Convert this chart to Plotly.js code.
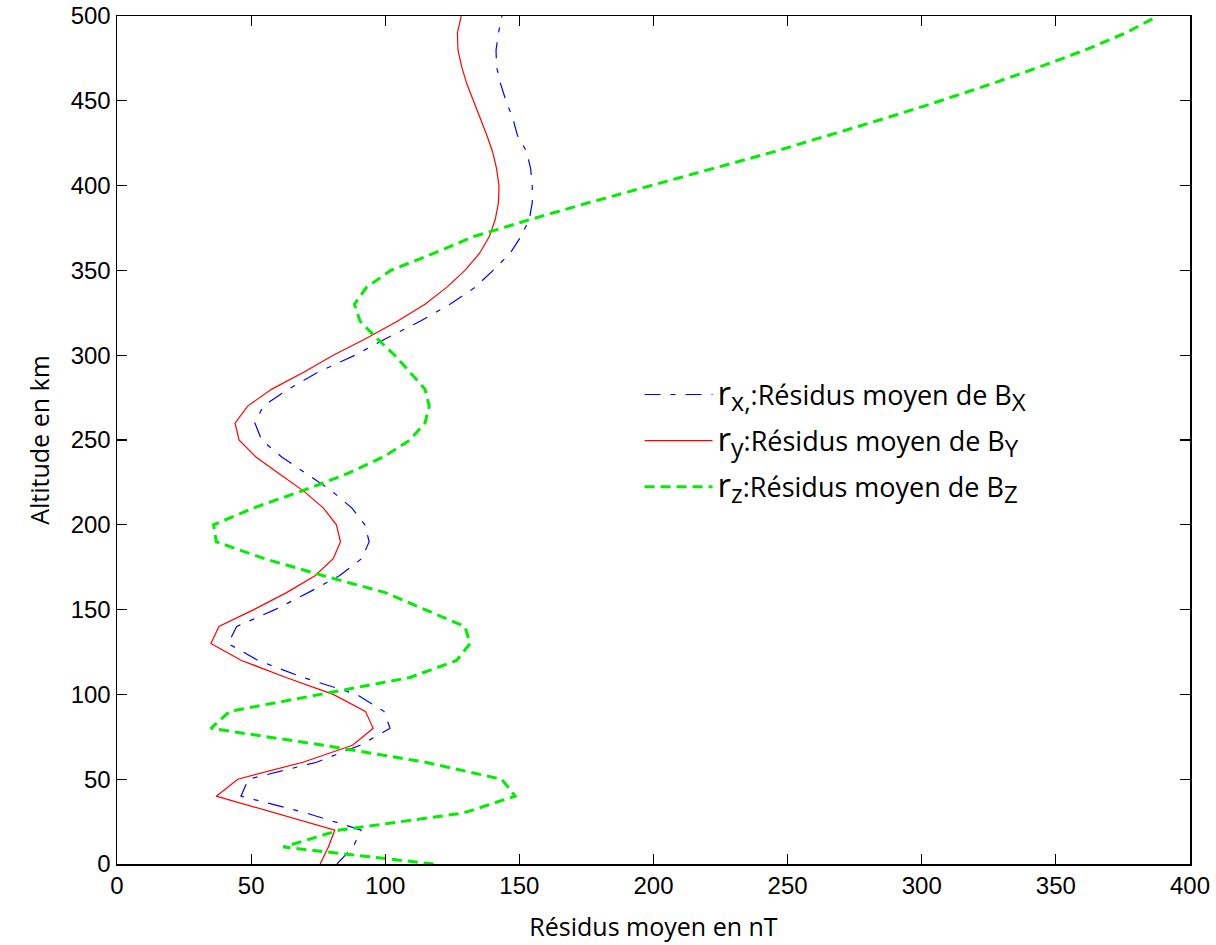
<!DOCTYPE html>
<html>
<head>
<meta charset="utf-8">
<script src="https://cdn.plot.ly/plotly-3.0.1.min.js"></script>
<style>
html,body{margin:0;padding:0;background:#fff;}
#chart{width:1216px;height:945px;}
</style>
</head>
<body>
<div id="chart"></div>
<script>
// Altitude (km)
var altitude = [0,10,20,30,40,50,60,70,80,90,100,110,120,130,140,150,160,170,180,190,200,
  210,220,230,240,250,260,270,280,290,300,310,320,330,340,350,360,370,380,390,400,
  410,420,430,440,450,460,470,480,490,500];

// r_x : mean residuals of Bx (nT)
var rx = [82,88,91,70.7,46.2,49,74.4,90.6,101.8,99.5,89.3,69.3,52.6,41.4,44.6,58.9,71.3,82.9,91.2,94,92.4,
  87.5,80,70.7,61.4,53.9,51.4,54.5,63.9,75,88.7,100.5,113,124.1,133.5,140.2,146.5,150.6,153.7,154.8,154.8,
  154.2,152.7,149.2,147.5,145,143,141.5,141.3,142.2,143.5];

// r_y : mean residuals of By (nT)
var ry = [75.7,78.8,81.2,59,37,45,69.3,87.8,95.5,92.6,80.6,63,46.4,35,38,51,63.2,73.8,80.6,83.3,81.8,
  76.9,69.5,60.6,51.8,45.5,44,48.7,57.7,69.6,80.6,93,104.5,114.8,122.9,129.7,135.1,138.8,141,142.2,142.4,
  141.5,140,137.8,135.3,132.8,130.4,128.5,127.1,126.9,128.3];

// r_z : mean residuals of Bz (nT)
var rz = [118,62,83,129,148.4,143.4,115,77,35,42,75.7,109.2,126.6,131.6,129.7,115,100,77,55,37,36,
  51,69,85.6,99.3,109.2,114.8,116.4,114.8,109.2,103.5,96.8,90.6,88.5,93,102,118,133,154,176,199,
  222,245,266,287,307,326,344,361,376,388];

var seriesNames = [
  '<span style="font-size:33px">r</span><sub><span style="font-size:25px">x,</span></sub>:Résidus moyen de B<sub><span style="font-size:24px">X</span></sub>',
  '<span style="font-size:33px">r</span><sub><span style="font-size:25px">y</span></sub>:Résidus moyen de B<sub><span style="font-size:24px">Y</span></sub>',
  '<span style="font-size:33px">r</span><sub><span style="font-size:25px">z</span></sub>:Résidus moyen de B<sub><span style="font-size:24px">Z</span></sub>'
];
var xTicks = [0,50,100,150,200,250,300,350,400];
var yTicks = [0,50,100,150,200,250,300,350,400,450,500];

var traces = [
  {x: rx, y: altitude, type: 'scatter', mode: 'lines', name: seriesNames[0], legendgroup: 'a',
   line: {color: '#0000ff', width: 1.2, dash: '16px,10px,5px,10px'}},
  {x: ry, y: altitude, type: 'scatter', mode: 'lines', name: seriesNames[1], legendgroup: 'b',
   line: {color: '#ff0000', width: 1.2}},
  {x: rz, y: altitude, type: 'scatter', mode: 'lines', name: seriesNames[2], legendgroup: 'c',
   line: {color: '#00ee00', width: 3, dash: '10px,6px'}}
];

var axisCommon = {
  showgrid: false, zeroline: false, showline: true, linecolor: '#000', linewidth: 1.5,
  mirror: 'ticks', ticks: 'inside', ticklen: 10, tickwidth: 1.2, tickcolor: '#000',
  tickfont: {family: '"Liberation Sans", Arial, sans-serif', size: 24, color: '#000'}
};

var layout = {
  width: 1216, height: 945,
  margin: {l: 117, r: 26, t: 16, b: 81},
  paper_bgcolor: '#fff', plot_bgcolor: '#fff',
  showlegend: true,
  legend: {
    x: 0.487, y: 0.582, xanchor: 'left', yanchor: 'top',
    bgcolor: 'rgba(0,0,0,0)', borderwidth: 0,
    font: {family: '"Open Sans", sans-serif', size: 27, color: '#000'},
    itemwidth: 68, tracegroupgap: 8
  },
  xaxis: Object.assign({}, axisCommon, {
    range: [0, 400], tickvals: xTicks,
    title: {text: 'Résidus moyen en nT', font: {family: '"Open Sans", sans-serif', size: 25, color: '#000'}, standoff: 20}
  }),
  yaxis: Object.assign({}, axisCommon, {
    range: [0, 500], tickvals: yTicks,
    title: {text: 'Altitude en km', font: {family: '"Open Sans", sans-serif', size: 25, color: '#000'}, standoff: 14}
  })
};

Plotly.newPlot('chart', traces, layout, {displayModeBar: false, staticPlot: true});
</script>
</body>
</html>
